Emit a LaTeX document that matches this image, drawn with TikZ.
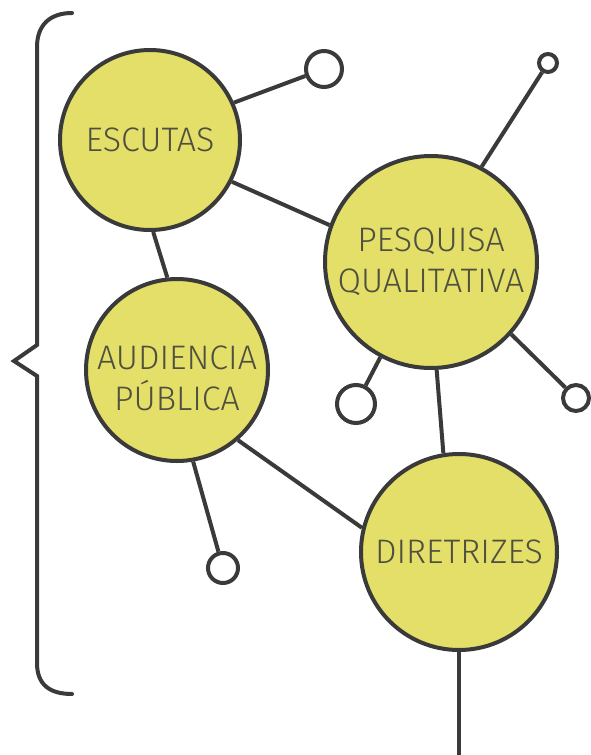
\documentclass[tikz,border=0pt]{standalone}
\usepackage{fontspec}
\setmainfont{Fira Sans}[UprightFont=* Light]
\definecolor{inkgray}{RGB}{58,58,58}
\definecolor{textgray}{RGB}{80,80,64}
\definecolor{bubble}{RGB}{227,223,104}
\tikzset{
    x=1pt, y=-1pt, % pixel-like units, y grows downwards
    topic/.style={circle, draw=inkgray, line width=4pt, fill=bubble, inner sep=0pt,
        text=textgray, align=center, font=\fontsize{34}{41}\selectfont}, % big circles
    dot/.style={circle, draw=inkgray, line width=4pt, fill=white, inner sep=0pt}, % small end circles
    link/.style={draw=inkgray, line width=4pt}, % connectors
}
\begin{document}
\begin{tikzpicture}
    \useasboundingbox (0,0) rectangle (590,755);

    % big circles
    \node[topic, minimum size=180pt] (ESC) at (150,140) {ESCUTAS};
    \node[topic, minimum size=212pt] (PESQ) at (431,262) {PESQUISA\\QUALITATIVA};
    \node[topic, minimum size=182pt] (AUD) at (177,370) {\rule{0pt}{41pt}AUDIENCIA\\PÚBLICA};
    \node[topic, minimum size=196pt] (DIR) at (459,552) {DIRETRIZES};

    % small circles
    \node[dot, minimum size=36pt] (ESC_D) at (324,69) {};
    \node[dot, minimum size=18pt] (PESQ_D1) at (548,63) {};
    \node[dot, minimum size=38pt] (PESQ_D2) at (356,404) {};
    \node[dot, minimum size=26pt] (PESQ_D3) at (576,398) {};
    \node[dot, minimum size=30pt] (AUD_D) at (223,568) {};
    \coordinate (DIR_END) at (459,755);

    % connectors
    \draw[link] (ESC.24)   edge[link] (ESC_D)
                (ESC.-27)  edge[link] (PESQ.160)
                (ESC.-88)  edge[link] (AUD.96)
                (PESQ.62)  edge[link] (PESQ_D1)
                (PESQ.-118) edge[link] (PESQ_D2)
                (PESQ.-42) edge[link] (PESQ_D3)
                (PESQ.-87) edge[link] (DIR.99)
                (AUD.-80)  edge[link] (AUD_D)
                (AUD.-49)  edge[link] (DIR.166)
                (DIR.south) edge[link] (DIR_END);

    % brace on the left
    \draw[inkgray, line width=4pt, line cap=round]
        (72,13) .. controls (50,13) and (37,25) .. (37,47)
        -- (37,345) -- (14,361) -- (37,376) -- (37,663)
        .. controls (37,685) and (50,694) .. (72,694);
\end{tikzpicture}
\end{document}
